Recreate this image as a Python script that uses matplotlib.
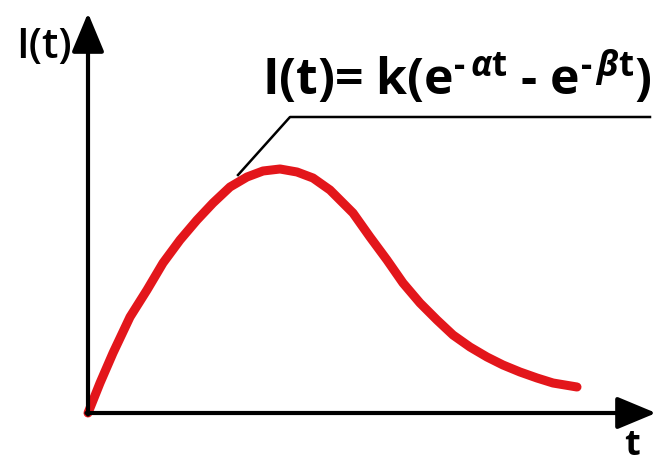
import matplotlib.pyplot as plt

plt.rcParams['mathtext.fontset'] = 'custom'
plt.rcParams['mathtext.rm'] = 'Open Sans:bold'
plt.rcParams['mathtext.it'] = 'Open Sans:italic:bold'
plt.rcParams['mathtext.bf'] = 'Open Sans:bold'

# points (t, I)
t_vals = [0.0, 0.24, 0.50, 0.84, 1.18, 1.50, 1.84, 2.18, 2.50, 2.84,
          3.18, 3.50, 3.84, 4.18, 4.50, 4.84, 5.30, 5.64, 5.98, 6.30,
          6.64, 6.98, 7.30, 7.64, 7.98, 8.30, 8.64, 8.98, 9.30, 9.78]
i_vals = [0.0, 0.60, 1.20, 1.92, 2.46, 3.00, 3.46, 3.86, 4.20, 4.52,
          4.72, 4.84, 4.88, 4.82, 4.70, 4.46, 4.00, 3.52, 3.06, 2.60,
          2.20, 1.86, 1.56, 1.32, 1.12, 0.96, 0.82, 0.70, 0.60, 0.52]

fig = plt.figure(figsize=(6.64, 4.67), dpi=100)
ax = fig.add_axes([0, 0, 1, 1])
ax.set_xlim(-1.76, 11.52)
ax.set_ylim(-1.08, 8.26)
ax.axis('off')

# axes with arrow heads
arrow = dict(arrowstyle='-|>,head_length=0.6,head_width=0.25', color='black',
             lw=3, mutation_scale=40, shrinkA=0, shrinkB=0)
ax.annotate('', xy=(0, 8.0), xytext=(0, -0.03), arrowprops=arrow)
ax.annotate('', xy=(11.36, 0), xytext=(-0.03, 0), arrowprops=arrow)

ax.plot(t_vals, i_vals, color='#e3161b', lw=6.5, solid_capstyle='round',
        solid_joinstyle='round')

ax.text(-0.88, 7.33, 'I(t)', fontsize=30, family='Open Sans', weight='semibold',
        ha='center', va='center')
ax.text(10.88, -0.66, 't', fontsize=26, family='Open Sans', weight='bold',
        ha='center', va='center')

# formula with leader line
ax.text(3.48, 6.34,
        r'I(t)= k(e$^{\text{-}\,\alpha \mathrm{t}}$ - e$^{\text{-}\,\beta \mathrm{t}}$)',
        fontsize=36, family='Open Sans', weight='bold', ha='left', va='baseline')
ax.plot([3.0, 4.04, 11.24], [4.76, 5.92, 5.92], color='black', lw=1.8)

fig.savefig('out.png', dpi=100)
